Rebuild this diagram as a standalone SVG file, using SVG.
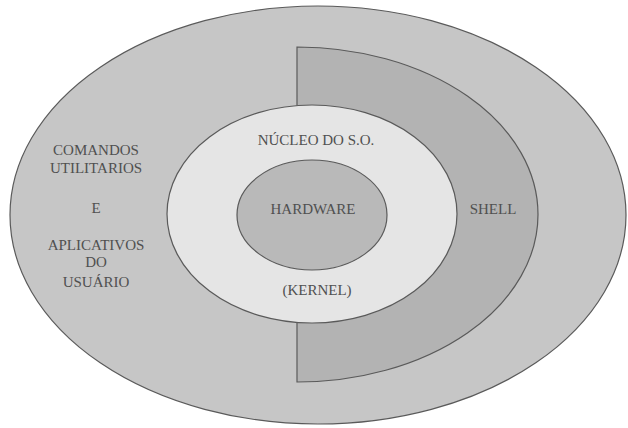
<svg xmlns="http://www.w3.org/2000/svg" width="628" height="428" viewBox="0 0 628 428">
<style>
.s{stroke:#5a5a5a;stroke-width:1.2}
text{font-family:"Liberation Serif","Times New Roman",serif;font-size:15px;fill:#505050;text-anchor:middle}
</style>
<rect width="628" height="428" fill="#ffffff"/>
<g id="usuario">
<ellipse class="s" cx="318" cy="215" rx="308" ry="209" fill="#c6c6c6"/>
<text x="96" y="155">COMANDOS</text>
<text x="96" y="173">UTILITARIOS</text>
<text x="96" y="213">E</text>
<text x="96" y="250">APLICATIVOS</text>
<text x="96" y="267">DO</text>
<text x="96" y="287">USUÁRIO</text>
</g>
<g id="shell">
<path class="s" d="M297,47 A241,167.5 0 0 1 297,382 Z" fill="#b3b3b3"/>
<text x="493" y="214">SHELL</text>
</g>
<g id="nucleo">
<ellipse class="s" cx="312" cy="214" rx="145" ry="109" fill="#e5e5e5"/>
<text x="316" y="145">NÚCLEO DO S.O.</text>
<text x="317" y="295">(KERNEL)</text>
</g>
<g id="hardware">
<ellipse class="s" cx="312" cy="215" rx="75" ry="55" fill="#b9b9b9"/>
<text x="313" y="214">HARDWARE</text>
</g>
<g id="connectors"/>
</svg>
